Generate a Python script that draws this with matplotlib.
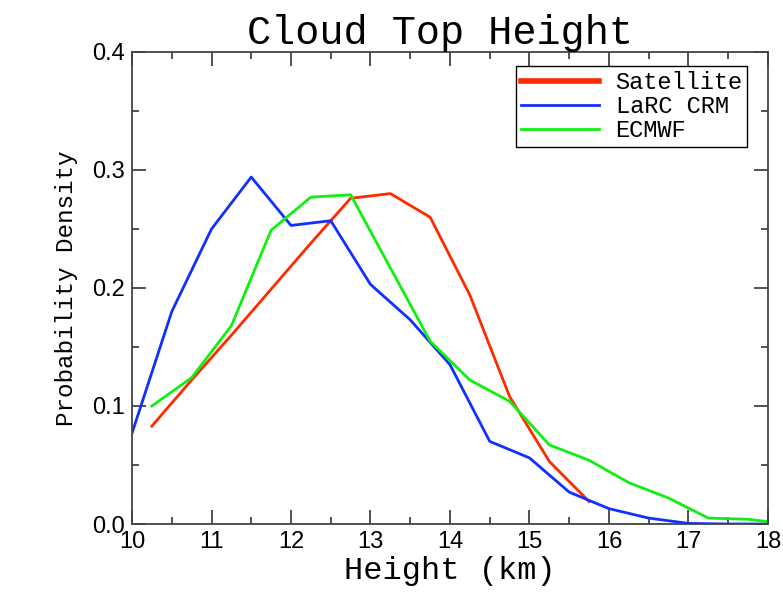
import matplotlib
matplotlib.use("Agg")
import matplotlib.pyplot as plt
from matplotlib.ticker import MultipleLocator

# -----------------------------
# DATA
# -----------------------------
sat_x = [10.25, 10.75, 11.25, 11.75, 12.25, 12.75, 13.25, 13.75, 14.25, 14.75, 15.25, 15.75]
sat_y = [0.083, 0.122, 0.160, 0.199, 0.238, 0.276, 0.280, 0.260, 0.194, 0.108, 0.053, 0.019]

crm_x = [10.0, 10.5, 11.0, 11.5, 12.0, 12.5, 13.0, 13.5, 14.0, 14.5, 15.0, 15.5, 16.0, 16.5, 17.0, 17.5, 18.0]
crm_y = [0.077, 0.180, 0.250, 0.294, 0.253, 0.257, 0.203, 0.173, 0.135, 0.070, 0.056, 0.027, 0.013, 0.005, 0.0005, 0.0, 0.0]

ecm_x = [10.25, 10.75, 11.25, 11.75, 12.25, 12.75, 13.25, 13.75, 14.25, 14.75, 15.25, 15.75, 16.25, 16.75, 17.25, 17.75, 18.25]
ecm_y = [0.100, 0.124, 0.168, 0.249, 0.277, 0.279, 0.217, 0.155, 0.122, 0.104, 0.067, 0.054, 0.035, 0.022, 0.005, 0.004, 0.000]

MONO = "Liberation Mono"
SANS = "Liberation Sans"

# -----------------------------
# PLOT
# -----------------------------
fig = plt.figure(figsize=(7.83, 5.96), dpi=100)
ax = fig.add_axes([0.1686, 0.1208, 0.8122, 0.792])

ax.plot(sat_x, sat_y, color="#ff2a00", lw=2.0, label="Satellite")
ax.plot(crm_x, crm_y, color="#1030ff", lw=2.0, label="LaRC CRM")
ax.plot(ecm_x, ecm_y, color="#10f010", lw=2.0, label="ECMWF")

ax.set_xlim(10, 18)
ax.set_ylim(0, 0.4)
ax.xaxis.set_major_locator(MultipleLocator(1))
ax.xaxis.set_minor_locator(MultipleLocator(0.5))
ax.yaxis.set_major_locator(MultipleLocator(0.1))
ax.yaxis.set_minor_locator(MultipleLocator(0.05))
ax.yaxis.set_major_formatter(plt.FuncFormatter(lambda v, p: f"{v:.1f}"))

ax.tick_params(which="both", direction="in", top=True, right=True, color="#333333")
ax.tick_params(which="major", length=10, width=1.2, labelsize=17, pad=5)
ax.tick_params(which="minor", length=5, width=1.2)
for lab in ax.get_xticklabels() + ax.get_yticklabels():
    lab.set_family(SANS)
for sp in ax.spines.values():
    sp.set_color("#444444")
    sp.set_linewidth(1.3)

ax.set_title("Cloud Top Height", family=MONO, fontsize=29, pad=6, x=0.485)
ax.set_xlabel("Height (km)", family=MONO, fontsize=23, labelpad=2)
ax.set_ylabel("Probability Density", family=MONO, fontsize=17.5, labelpad=10)

leg = ax.legend(loc="upper right", bbox_to_anchor=(0.99, 1.0), frameon=True, fancybox=False,
                edgecolor="black", framealpha=1, prop={"family": MONO, "size": 17},
                handlelength=3.3, borderpad=0.2, labelspacing=0.05, handletextpad=0.7,
                borderaxespad=0.6)
leg.get_frame().set_linewidth(1.0)
leg.get_lines()[0].set_linewidth(4)

fig.savefig("out.png", dpi=100)
